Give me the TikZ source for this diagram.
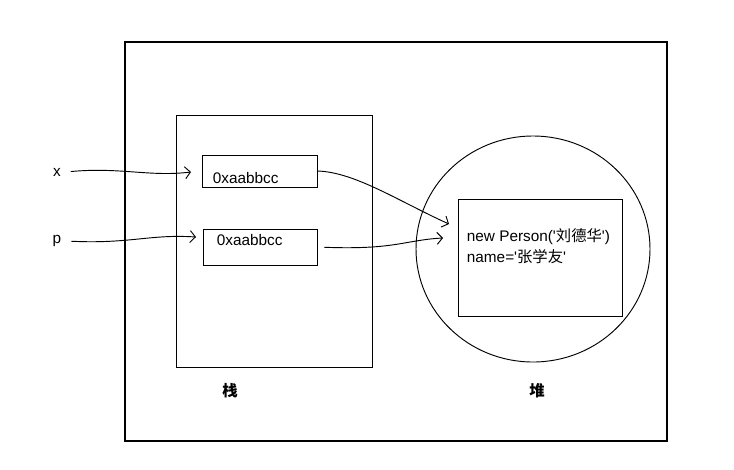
\documentclass[tikz,border=0pt]{standalone}
\usepackage{fontspec}
\setmainfont{Liberation Sans}
\newfontfamily\cjk{Noto Sans CJK SC}
\usetikzlibrary{arrows.meta,shapes.geometric}
\newcommand{\hanzi}[1]{{\cjk #1}}

\begin{document}
\begin{tikzpicture}[x=0.75pt,y=-0.75pt,line width=0.7pt,font=\fontsize{11.5}{13}\selectfont,
frame/.style={draw,rectangle,inner sep=0pt,outer sep=0pt,minimum width=406.5pt,minimum height=299.25pt,line width=0.95pt},
stackbox/.style={draw,rectangle,inner sep=0pt,outer sep=0pt,minimum width=147pt,minimum height=189pt},
cell/.style={draw,rectangle,inner sep=0pt,outer sep=0pt,minimum width=86pt,minimum height=#1},
heap/.style={draw,ellipse,inner sep=0pt,outer sep=0pt,minimum width=175.5pt,minimum height=169.5pt},
obj/.style={draw,rectangle,inner sep=0pt,outer sep=0pt,minimum width=123pt,minimum height=87.75pt},
ptr/.style={-{Straight Barb[length=4pt,width=9pt]},line cap=round}]

\useasboundingbox (0,0) rectangle (734,469);

\draw (396,241.5) node[frame] (F) {};
\draw (274,241) node[stackbox] (S) {};
\draw (260,171) node[cell=24pt] (S1) {};
\draw (260.5,247) node[cell=27pt] (S2) {};
\draw (533,249) node[heap] (H) {};
\draw (540,257.5) node[obj] (H1) {};

\draw (208,178) node[anchor=west] (V1) {0xaabbcc};
\draw (212,240) node[anchor=west] (V2) {0xaabbcc};
\draw (462,237) node[anchor=west] (T1) {new Person(\textquotesingle\hanzi{刘德华}\textquotesingle)};
\draw (462,257) node[anchor=west] (T2) {name=\textquotesingle\hanzi{张学友}\textquotesingle};

\draw (57,172) node (X) {x};
\draw (57,241) node (P) {p};
\draw (230,391) node (L1) {\hanzi{\bfseries 栈}};
\draw (537,391) node (L2) {\hanzi{\bfseries 堆}};

\coordinate (xend) at (191,172);
\coordinate (pend) at (196,237);
\coordinate (h1end) at (449,224);
\coordinate (h2end) at (443,238);

\draw[ptr,shorten <=4pt] (X.east) .. controls (120,167) and (150,177) .. (xend);
\draw[ptr,shorten <=4pt] (P.east) .. controls (130,244) and (150,234) .. (pend);
\draw[ptr] (S1.east) .. controls (355,172) and (400,202) .. (h1end);
\draw[ptr,shorten <=5pt] (S2.east) .. controls (395,250) and (405,240) .. (h2end);

\end{tikzpicture}
\end{document}
